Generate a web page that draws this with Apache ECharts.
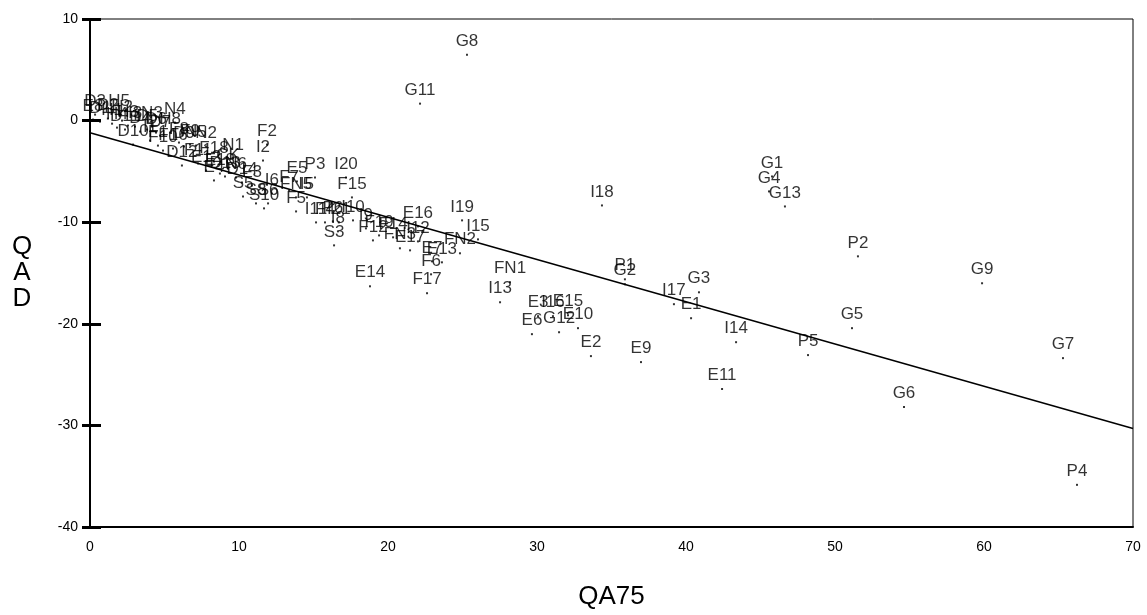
<!DOCTYPE html>
<html>
<head>
<meta charset="utf-8">
<title>QAD vs QA75</title>
<script src="https://cdn.jsdelivr.net/npm/echarts@6/dist/echarts.min.js"></script>
<style>
  html, body { margin: 0; padding: 0; background: #fff; }
  #chart { width: 1147px; height: 615px; }
</style>
</head>
<body>
<div id="chart"></div>
<script>
// Case identifiers, one per plotted point
const pointNames = [
  'E8','D3','H5','D1','D2','H1','H2','H3','I3','N3','N4','H8','H4','D4','D5','D6','D7','D10',
  'F10','F16','I1','F1','F8','F9','N5','N2','D11','D9',
  'D12','F18','F11','E12','CK','N1','E4','D13','N6','D14','F3','E18','F2','I2',
  'S5','S8','S6','S10','I6','F7','FN5','I5','E5','P3','I20','F15','F5',
  'I11','F4','P6','I21','I10','I8','S3','I9','F19','F12','F14','FN3','E17','I12','E16',
  'I19','I15','FN2','E13','E7','F6','F17','E14','FN1','I13','E3','I16','E15','E6','G12',
  'E10','E2','P1','G2','G3','I17','E1','I14','P5','E9','E11','I18','G1','G4','G13',
  'P2','G9','G5','G7','G6','P4','G8','G11'
];

// QA75 (horizontal) values
const qa75 = [
  0.2,0.34,1.95,0.67,1.2,1.48,2.15,2.55,3.02,4.16,5.7,5.37,1.81,3.36,3.83,4.43,4.7,2.89,
  4.9,5.57,4.03,4.56,5.97,6.71,7.11,7.79,2.35,6.31,
  6.17,8.32,7.25,7.79,9.26,9.6,8.32,9.06,9.8,10.2,10.87,8.72,11.88,11.61,
  10.27,11.14,11.95,11.68,12.21,13.36,13.83,14.56,13.89,15.1,17.18,17.58,13.83,
  15.17,15.77,16.3,16.7,17.65,16.64,16.38,18.52,19.4,18.99,20.34,20.8,21.48,22.01,22.01,
  24.97,26.04,24.83,23.62,22.95,22.89,22.62,18.79,28.19,27.52,30.07,31.07,32.08,29.66,31.48,
  32.75,33.62,35.9,35.9,40.87,39.19,40.34,43.36,48.19,36.98,42.42,34.36,45.77,45.57,46.64,
  51.54,59.87,51.14,65.3,54.63,66.24,25.3,22.15
];

// QAD (vertical) values
const qad = [
  0.1,0.59,0.59,-0.1,0.2,-0.3,0.0,-0.49,-0.59,-0.59,-0.2,-1.18,-0.69,-1.08,-0.88,-1.18,-1.47,-2.36,
  -2.95,-2.75,-1.96,-2.46,-2.16,-2.36,-2.46,-2.55,-0.88,-2.55,
  -4.42,-4.03,-4.22,-4.91,-4.72,-3.73,-5.89,-5.5,-5.6,-6.09,-6.39,-5.21,-2.36,-3.93,
  -7.47,-8.15,-8.15,-8.64,-7.17,-6.88,-7.56,-7.56,-5.99,-5.6,-5.6,-7.56,-8.94,
  -10.02,-10.02,-9.92,-10.02,-9.82,-10.9,-12.28,-10.61,-11.3,-11.79,-11.49,-12.57,-12.77,-11.89,-10.41,
  -9.82,-11.69,-13.06,-13.95,-13.85,-15.13,-16.99,-16.31,-15.91,-17.88,-19.25,-19.25,-19.16,-21.02,-20.83,
  -20.43,-23.18,-15.62,-16.11,-16.9,-18.07,-19.45,-21.81,-23.08,-23.77,-26.42,-8.35,-5.5,-6.97,-8.45,
  -13.36,-16.01,-20.43,-23.38,-28.19,-35.85,6.48,1.67
];

// Fitted line end points (QA75, QAD)
const fitLine = [[0, -1.2], [70, -30.3]];

// Axis tick values
const xTicks = [0, 10, 20, 30, 40, 50, 60, 70];
const yTicks = [-40, -30, -20, -10, 0, 10];

const FONT = 'Liberation Sans, Arial, sans-serif';
const points = pointNames.map((n, i) => ({ name: n, value: [qa75[i], qad[i]] }));

const chart = echarts.init(document.getElementById('chart'), null, { renderer: 'canvas' });
chart.setOption({
  animation: false,
  backgroundColor: '#ffffff',
  grid: {
    left: 90, right: 14, top: 19, bottom: 87,
    show: true, borderColor: '#000', borderWidth: 1, backgroundColor: 'transparent'
  },
  xAxis: {
    type: 'value',
    min: xTicks[0], max: xTicks[xTicks.length - 1], interval: 10,
    name: 'QA75', nameLocation: 'middle', nameGap: 57,
    nameTextStyle: { fontFamily: FONT, fontSize: 26, color: '#000' },
    axisLine: { show: true, onZero: false, lineStyle: { color: '#000', width: 2 } },
    axisTick: { show: false },
    axisLabel: { fontFamily: FONT, fontSize: 14, color: '#000', margin: 13 },
    splitLine: { show: false }
  },
  yAxis: [
    {
      type: 'value',
      min: yTicks[0], max: yTicks[yTicks.length - 1], interval: 10,
      name: 'Q\nA\nD', nameLocation: 'middle', nameGap: 68, nameRotate: 0,
      nameTextStyle: { fontFamily: FONT, fontSize: 26, lineHeight: 26, color: '#000', align: 'center' },
      axisLine: { show: true, onZero: false, lineStyle: { color: '#000', width: 2 } },
      axisTick: { show: true, length: 8, lineStyle: { color: '#000', width: 3 } },
      axisLabel: { fontFamily: FONT, fontSize: 14, color: '#000', margin: 12 },
      splitLine: { show: false }
    },
    {
      // inner half of the heavy tick marks
      type: 'value', position: 'left',
      min: yTicks[0], max: yTicks[yTicks.length - 1], interval: 10,
      axisLine: { show: false, onZero: false },
      axisTick: { show: true, inside: true, length: 11, lineStyle: { color: '#000', width: 3 } },
      axisLabel: { show: false },
      splitLine: { show: false }
    }
  ],
  series: [
    {
      type: 'line',
      data: fitLine,
      symbol: 'none',
      lineStyle: { color: '#000', width: 1.5 },
      z: 1,
      silent: true
    },
    {
      type: 'scatter',
      data: points,
      symbol: 'rect',
      symbolSize: 2,
      itemStyle: { color: '#000' },
      label: {
        show: true,
        position: 'top',
        distance: 4,
        formatter: '{b}',
        fontFamily: FONT,
        fontSize: 17,
        color: '#000'
      },
      labelLayout: { hideOverlap: false },
      z: 2
    }
  ]
});
</script>
</body>
</html>
